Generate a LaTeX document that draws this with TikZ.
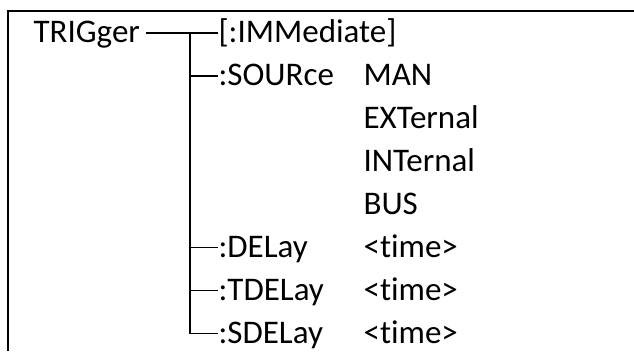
\documentclass[tikz,border=0pt]{standalone}
\usepackage{fontspec}
\setmainfont{Carlito}[Ligatures=CommonOff]
\tikzset{cmd/.style={anchor=west, inner sep=0pt, text height=19pt, text depth=0pt}}
\begin{document}
\begin{tikzpicture}[x=1pt,y=-1pt,font=\fontsize{33}{36}\selectfont,line width=1.2pt]
%\draw[help lines] (0,0) grid (634,351);
\useasboundingbox (0,0) rectangle (634,351);
\draw[line width=1.8pt] (634,11) -- (8,11) -- (8,351);
\node (trig) [cmd] at (33,33) {TRIGger};
\node (imm) [cmd] at (218,33) {[:IMMediate]};
\node (sour) [cmd] at (218,75.9) {:SOURce};
\node (man) [cmd] at (363,75.9) {MAN};
\node (ext) [cmd] at (363,118.9) {EXTernal};
\node (int) [cmd] at (363,161.8) {INTernal};
\node (bus) [cmd] at (363,204.7) {BUS};
\node (del) [cmd] at (218,247.6) {:DELay};
\node (deltime) [cmd] at (363,247.6) {<time>};
\node (tdel) [cmd] at (218,290.6) {:TDELay};
\node (tdeltime) [cmd] at (363,290.6) {<time>};
\node (sdel) [cmd] at (218,333.5) {:SDELay};
\node (sdeltime) [cmd] at (363,333.5) {<time>};
\coordinate (top) at (190,33);
\coordinate (bot) at (190,333.5);
\draw ([xshift=5pt]trig.east) -- (imm.west);
\draw (top) -- (bot) -- (sdel.west);
\path
(top |- sour) edge (sour.west)
(top |- del) edge (del.west)
(top |- tdel) edge (tdel.west);
\end{tikzpicture}
\end{document}
